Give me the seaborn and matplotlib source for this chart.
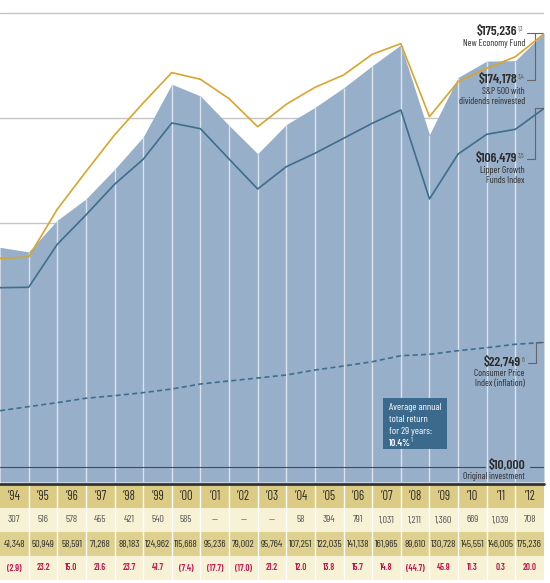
import matplotlib
matplotlib.use("Agg")
import matplotlib.pyplot as plt
from matplotlib import font_manager
from matplotlib.font_manager import FontProperties
from matplotlib.textpath import TextPath
from matplotlib.patches import Rectangle
import seaborn as sns

years = ["’94", "’95", "’96", "’97", "’98", "’99", "’00", "’01", "’02", "’03",
         "’04", "’05", "’06", "’07", "’08", "’09", "’10", "’11", "’12"]

# value at the start of '94, then the value at the end of each year
new_economy = [42600, 41348, 50949, 58591, 71268, 88183, 124962, 115668, 95236, 79002,
               95764, 107251, 122035, 141138, 161965, 89610, 130728, 145551, 146005, 175236]
sp500 = [39630, 39970, 54760, 70200, 89400, 110400, 134900, 129100, 113600, 94400,
         109500, 122400, 132800, 152200, 163300, 100900, 127100, 138800, 149800, 174178]
lipper = [32640, 32730, 43460, 52730, 64570, 76150, 96760, 93180, 76300, 62600,
          72530, 79220, 87460, 96560, 105400, 58610, 78850, 89790, 92820, 106479]
cpi = [14500, 14890, 15290, 15740, 16010, 16330, 16730, 17290, 17640, 17990,
       18350, 18960, 19470, 20030, 20840, 21030, 21540, 21970, 22470, 22749]

dividends = ["307", "516", "578", "455", "421", "540", "585", "—", "—", "—",
             "58", "394", "791", "1,031", "1,211", "1,360", "669", "1,039", "708"]
values = ["41,348", "50,949", "58,591", "71,268", "88,183", "124,962", "115,668", "95,236",
          "79,002", "95,764", "107,251", "122,035", "141,138", "161,965", "89,610",
          "130,728", "145,551", "146,005", "175,236"]
returns = ["(2.9)", "23.2", "15.0", "21.6", "23.7", "41.7", "(7.4)", "(17.7)", "(17.0)", "21.2",
           "12.0", "13.8", "15.7", "14.8", "(44.7)", "45.9", "11.3", "0.3", "20.0"]

sns.set_style("white")

# pick a narrow family that also has a bold face
faces = font_manager.fontManager.ttflist


def is_bold(w):
    return (isinstance(w, int) and w >= 600) or str(w) in ("bold", "semibold", "demibold", "heavy", "black")


narrow = "DejaVu Sans"
for cand in ["Barlow Condensed", "Roboto Condensed", "PT Sans Narrow", "Archivo Narrow",
             "Fira Sans Condensed", "Asap Condensed", "Liberation Sans Narrow"]:
    if any(f.name == cand and is_bold(f.weight) for f in faces):
        narrow = cand
        break
plt.rcParams["font.family"] = [narrow, "DejaVu Sans"]
BOLD = "semibold"


def fit(s, target_px, weight="normal"):
    w = TextPath((0, 0), s, size=10, prop=FontProperties(family=narrow, weight=weight)).get_extents().width
    return 10 * target_px / (w * 100 / 72)


fs_note = fit("New Economy Fund", 61)
fs_big = fit("$175,236", 40, BOLD)
fs_cell = fit("124,962", 25)
fs_ret = fit("(17.7)", 16.5, BOLD)
fs_year = fit("’97", 11)
fs_box = fit("Average annual", 52)

area_c = "#97afc8"
gold = "#d9a52a"
blue = "#3e6e8e"
text_c = "#2b2b2b"

fig = plt.figure(figsize=(5.5, 5.83), dpi=100)
ax = fig.add_axes([0, 101 / 583, 544 / 550, 482 / 583])
ymin, ymax = 9058, 217800
xs = list(range(20))


def px(x):
    return x / 544 * 19


def yv(py):
    return 10 ** (4 + (467 - py) / 349)


for g in [50000, 100000, 200000]:
    ax.axhline(g, color="#c4c4c4", lw=1, zorder=0)

ax.fill_between(xs, new_economy, ymin, color=area_c, lw=0, zorder=1)
ax.vlines(xs[1:19], ymin, new_economy[1:19], color="#dbe4ed", lw=1, zorder=2)

sns.lineplot(x=xs, y=sp500, color=gold, lw=1.2, ax=ax, zorder=4)
sns.lineplot(x=xs, y=lipper, color=blue, lw=1.2, ax=ax, zorder=4)
sns.lineplot(x=xs, y=cpi, color=blue, lw=1.2, ax=ax, zorder=4, linestyle=(0, (3, 2)))

ax.set_yscale("log")
ax.set_ylim(ymin, ymax)
ax.set_xlim(0, 19)
ax.axis("off")

# $10,000 original investment line
ax.plot([0, px(485)], [10000, 10000], color="#4a4a4a", lw=0.8, zorder=3)
ax.plot([px(530), 19], [10000, 10000], color="#4a4a4a", lw=0.8, zorder=3)

# leader brackets
lc = "#666666"
ax.plot([px(527), 19], [yv(33), yv(33)], color=lc, lw=0.8, zorder=3)
ax.plot([px(535), px(535)], [yv(33), yv(80)], color=lc, lw=0.8, zorder=3)
ax.plot([px(527), px(535)], [yv(80), yv(80)], color=lc, lw=0.8, zorder=3)
ax.plot([px(527), px(535), px(535), 19], [yv(159.3), yv(159.3), yv(108.5), yv(108.5)],
        color=lc, lw=0.8, zorder=3)
ax.plot([px(528), px(536.5), px(536.5), 19], [yv(362.7), yv(362.7), yv(342), yv(342)],
        color=lc, lw=0.8, zorder=3)

labels = [("$175,236", "1,3", 32.3, 517), ("$174,178", "3,4", 80, 517),
          ("$106,479", "3,5", 159.3, 517), ("$22,749", "6", 362.7, 521),
          ("$10,000", "", 465.7, 525)]
for main, sup, py, xr in labels:
    ax.text(px(xr), yv(py), main, ha="right", va="center", fontsize=fs_big,
            fontweight=BOLD, color=text_c, zorder=5)
    if sup:
        ax.text(px(xr + 0.5), yv(py - 2.5), sup, ha="left", va="center", fontsize=4.8,
                color="#555555", zorder=5)

notes = [("New Economy Fund", 43.7), ("S&P 500 with", 91.7), ("dividends reinvested", 101.7),
         ("Lipper Growth", 171), ("Funds Index", 181), ("Consumer Price", 373.3),
         ("Index (inflation)", 383.3), ("Original investment", 476.7)]
for t, py in notes:
    ax.text(px(525), yv(py), t, ha="right", va="center", fontsize=fs_note, color=text_c, zorder=5)

# average return box
ax.add_patch(Rectangle((383.3 / 544, (482 - 449.3) / 482), 63.4 / 544, 51 / 482,
                       transform=ax.transAxes, color="#3b6a8c", lw=0, zorder=5))
for t, py, w in [("Average annual", 407.3, "normal"), ("total return", 419.5, "normal"),
                 ("for 29 years:", 431.5, "normal"), ("10.4%", 443, BOLD)]:
    ax.text(389.3 / 544, (482 - py) / 482, t, transform=ax.transAxes, ha="left", va="center",
            fontsize=fs_box, fontweight=w, color="white", zorder=6)
ax.text(411 / 544, (482 - 440.5) / 482, "1", transform=ax.transAxes, ha="left", va="center",
        fontsize=4.8, color="white", zorder=6)

# table under the chart
tax = fig.add_axes([0, 3 / 583, 544 / 550, 96 / 583])
tax.set_xlim(0, 19)
tax.set_ylim(4, 0)
tax.axis("off")
for r, c in enumerate(["#dccb85", "#f7f1d6", "#ded08f", "#f7f1d6"]):
    tax.axhspan(r, r + 1, color=c, lw=0, zorder=0)
tax.vlines(range(1, 19), 0, 4, color="white", lw=1, zorder=1)
tax.axhline(0, color="#333333", lw=2, clip_on=False, zorder=3)

for i in range(19):
    tax.text(i + 0.5, 0.5, years[i], ha="center", va="center", fontsize=fs_year, color=text_c)
    tax.text(i + 0.5, 1.5, dividends[i], ha="center", va="center", fontsize=fs_cell, color="#555555")
    tax.text(i + 0.5, 2.5, values[i], ha="center", va="center", fontsize=fs_cell, color=text_c)
    tax.text(i + 0.5, 3.5, returns[i], ha="center", va="center", fontsize=fs_ret,
             fontweight=BOLD, color="#be1450")

plt.savefig("out.png", dpi=100)
